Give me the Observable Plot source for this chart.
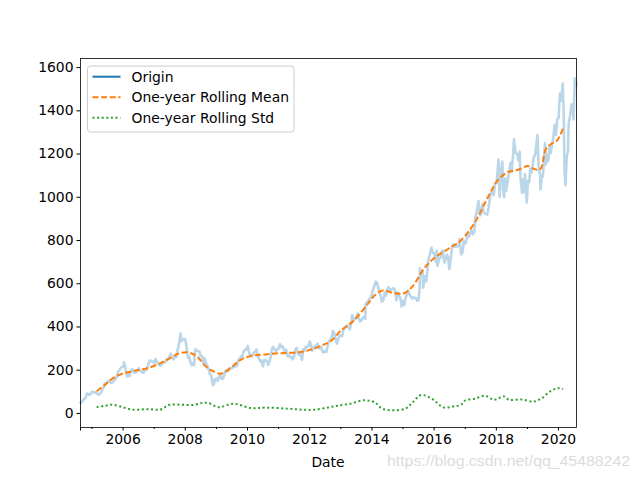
<!DOCTYPE html>
<html>
<head>
<meta charset="utf-8">
<script src="https://cdn.jsdelivr.net/npm/d3@7"></script>
<script src="https://cdn.jsdelivr.net/npm/@observablehq/plot@0.6"></script>
<style>
  html, body { margin: 0; padding: 0; background: #fff; }
  #wrap { position: relative; width: 640px; height: 480px; font-family: "DejaVu Sans", sans-serif; }
</style>
</head>
<body>
<div id="wrap"></div>
<script>
// ---- data ----
const originDates = [
"2004-08-19","2004-09-01","2004-09-15","2004-10-01","2004-10-15","2004-11-01","2004-11-15","2004-12-01","2004-12-15",
"2005-01-03","2005-01-18","2005-02-01","2005-02-15","2005-03-01","2005-03-15","2005-04-01","2005-04-15","2005-05-02","2005-05-16","2005-06-01","2005-06-15","2005-07-01","2005-07-15","2005-08-01","2005-08-15","2005-09-01","2005-09-15","2005-10-03","2005-10-17","2005-11-01","2005-11-15","2005-12-01","2005-12-15",
"2006-01-03","2006-01-11","2006-01-25","2006-02-06","2006-02-15","2006-03-01","2006-03-15","2006-04-03","2006-04-17","2006-05-01","2006-05-15","2006-06-01","2006-06-15","2006-07-03","2006-07-17","2006-08-01","2006-08-15","2006-09-01","2006-09-15","2006-10-02","2006-10-16","2006-11-01","2006-11-15","2006-12-01","2006-12-15",
"2007-01-02","2007-01-16","2007-02-01","2007-02-15","2007-03-01","2007-03-15","2007-04-02","2007-04-16","2007-05-01","2007-05-15","2007-06-01","2007-06-15","2007-07-02","2007-07-16","2007-08-01","2007-08-15","2007-09-04","2007-09-17","2007-10-01","2007-10-15","2007-11-01","2007-11-07","2007-11-15","2007-12-03","2007-12-17",
"2008-01-02","2008-01-16","2008-02-01","2008-02-15","2008-03-03","2008-03-17","2008-04-01","2008-04-15","2008-04-18","2008-05-01","2008-05-15","2008-06-02","2008-06-16","2008-07-01","2008-07-16","2008-07-25","2008-08-01","2008-08-15","2008-09-02","2008-09-16","2008-10-01","2008-10-15","2008-10-27","2008-11-03","2008-11-20","2008-12-01","2008-12-15",
"2009-01-02","2009-01-15","2009-02-02","2009-02-16","2009-03-02","2009-03-16","2009-04-01","2009-04-16","2009-05-01","2009-05-15","2009-06-01","2009-06-15","2009-07-01","2009-07-17","2009-08-03","2009-08-17","2009-09-01","2009-09-15","2009-10-01","2009-10-15","2009-11-02","2009-11-16","2009-12-01","2009-12-15",
"2010-01-04","2010-01-15","2010-02-01","2010-02-16","2010-03-01","2010-03-15","2010-04-01","2010-04-15","2010-05-03","2010-05-17","2010-06-01","2010-06-15","2010-07-01","2010-07-15","2010-08-02","2010-08-16","2010-08-31","2010-09-15","2010-10-01","2010-10-15","2010-11-01","2010-11-15","2010-12-01","2010-12-15",
"2011-01-03","2011-01-18","2011-02-01","2011-02-15","2011-03-01","2011-03-16","2011-04-01","2011-04-15","2011-05-02","2011-05-16","2011-06-01","2011-06-15","2011-07-01","2011-07-18","2011-08-01","2011-08-09","2011-08-15","2011-09-01","2011-09-15","2011-10-03","2011-10-17","2011-11-01","2011-11-15","2011-12-01","2011-12-15",
"2012-01-03","2012-01-18","2012-02-01","2012-02-15","2012-03-01","2012-03-15","2012-04-02","2012-04-16","2012-05-01","2012-05-15","2012-06-01","2012-06-15","2012-07-02","2012-07-16","2012-08-01","2012-08-15","2012-09-04","2012-09-17","2012-10-01","2012-10-15","2012-11-01","2012-11-15","2012-12-03","2012-12-17",
"2013-01-02","2013-01-16","2013-02-01","2013-02-15","2013-03-01","2013-03-15","2013-04-01","2013-04-16","2013-05-01","2013-05-15","2013-06-03","2013-06-17","2013-07-01","2013-07-16","2013-08-01","2013-08-15","2013-09-03","2013-09-16","2013-10-01","2013-10-15","2013-10-18","2013-11-01","2013-11-15","2013-12-02","2013-12-16",
"2014-01-02","2014-01-15","2014-01-31","2014-02-14","2014-02-28","2014-03-14","2014-03-31","2014-04-14","2014-04-28","2014-05-15","2014-05-30","2014-06-16","2014-06-30","2014-07-15","2014-07-31","2014-08-15","2014-09-02","2014-09-16","2014-10-01","2014-10-15","2014-10-31","2014-11-14","2014-12-01","2014-12-16",
"2015-01-02","2015-01-15","2015-01-30","2015-02-13","2015-03-02","2015-03-16","2015-04-01","2015-04-15","2015-05-01","2015-05-15","2015-06-01","2015-06-15","2015-07-01","2015-07-16","2015-07-17","2015-08-03","2015-08-17","2015-08-25","2015-09-01","2015-09-15","2015-10-01","2015-10-15","2015-10-23","2015-11-02","2015-11-16","2015-12-01","2015-12-15",
"2016-01-04","2016-01-20","2016-02-01","2016-02-09","2016-02-16","2016-03-01","2016-03-15","2016-04-01","2016-04-15","2016-04-22","2016-05-02","2016-05-16","2016-06-01","2016-06-15","2016-06-27","2016-07-15","2016-07-29","2016-08-15","2016-09-01","2016-09-15","2016-10-03","2016-10-17","2016-10-25","2016-11-01","2016-11-14","2016-12-01","2016-12-15",
"2017-01-03","2017-01-17","2017-01-27","2017-02-15","2017-03-01","2017-03-15","2017-03-31","2017-04-17","2017-04-28","2017-05-15","2017-06-05","2017-06-15","2017-06-29","2017-07-14","2017-07-26","2017-08-01","2017-08-16","2017-09-01","2017-09-15","2017-10-02","2017-10-16","2017-10-27","2017-11-15","2017-12-01","2017-12-15",
"2018-01-02","2018-01-16","2018-01-26","2018-02-08","2018-02-21","2018-03-12","2018-03-23","2018-04-02","2018-04-16","2018-04-27","2018-05-15","2018-06-01","2018-06-15","2018-06-28","2018-07-17","2018-07-26","2018-08-15","2018-09-04","2018-09-17","2018-10-01","2018-10-12","2018-10-29","2018-11-08","2018-11-23","2018-12-03","2018-12-24",
"2019-01-07","2019-01-22","2019-02-04","2019-02-15","2019-03-01","2019-03-15","2019-04-01","2019-04-29","2019-05-13","2019-05-31","2019-06-03","2019-06-17","2019-07-01","2019-07-26","2019-08-05","2019-08-19","2019-09-03","2019-09-18","2019-10-01","2019-10-15","2019-11-01","2019-11-15","2019-12-02","2019-12-16",
"2020-01-02","2020-01-17","2020-02-04","2020-02-19","2020-03-02","2020-03-12","2020-03-23","2020-04-06","2020-04-21","2020-04-29","2020-05-15","2020-06-01","2020-06-15","2020-06-26","2020-07-10","2020-07-24","2020-07-30"
];
const originValues = [
50,51,60,68,70,92,91,86,90,
101,98,96,98,93,87,90,96,110,120,140,137,146,151,145,142,143,151,159,168,192,199,208,215,
217,237,216,190,171,182,172,195,205,198,188,190,195,210,200,193,190,189,205,201,215,238,246,240,240,
233,252,241,231,224,221,229,235,236,240,252,253,265,276,255,250,264,262,292,312,351,370,333,341,345,
342,308,258,265,235,222,233,224,270,297,290,289,286,266,266,246,234,255,232,221,205,183,180,170,131,134,158,
161,150,171,180,160,160,174,197,198,195,209,210,209,215,226,218,222,248,252,264,265,286,294,295,
312,290,266,270,266,282,284,296,265,254,241,244,218,247,245,242,225,240,263,301,308,297,289,296,
302,320,306,312,300,281,295,265,269,260,263,250,260,297,303,288,279,270,276,248,297,289,308,306,312,
333,313,290,302,311,312,323,302,302,307,285,282,290,285,316,334,342,356,381,372,342,323,347,361,
360,358,387,396,399,407,399,389,415,455,434,437,443,462,441,425,433,444,444,439,505,513,518,531,534,
554,574,592,610,606,585,556,544,517,525,559,545,575,584,571,573,577,579,567,524,559,544,534,495,
521,502,534,549,569,552,542,532,537,534,534,521,522,580,672,650,660,582,600,636,611,661,702,722,740,767,744,
741,701,752,683,691,718,720,749,753,718,698,716,734,718,668,719,768,782,771,771,772,779,807,783,736,747,797,
786,804,823,818,835,847,829,838,905,932,983,935,917,955,970,930,926,922,920,953,992,1019,1021,1010,1064,
1065,1121,1175,1001,1111,1165,1022,1000,1087,1030,1079,1120,1159,1116,1199,1268,1207,1198,1170,1211,1090,1020,1082,1023,1106,976,
1076,1070,1132,1113,1140,1185,1194,1288,1132,1104,1036,1092,1097,1250,1152,1198,1168,1232,1205,1243,1273,1334,1289,1361,
1368,1480,1447,1526,1389,1114,1056,1186,1216,1341,1375,1431,1419,1360,1550,1511,1531
];

const meanDates = [
"2005-02-24","2005-05-26","2005-08-18","2006-01-01","2006-05-08","2006-09-24","2007-03-29","2007-07-02","2007-10-16",
"2008-01-26","2008-04-01","2008-06-03","2008-08-26","2008-11-25","2009-02-21","2009-06-18","2009-09-13","2009-11-18",
"2010-03-15","2010-08-22","2011-01-26","2011-09-13","2012-02-17","2012-06-17","2012-09-05","2013-01-01","2013-06-03",
"2013-11-14","2014-02-06","2014-05-08","2014-09-13","2015-01-12","2015-04-27","2015-09-02","2015-11-25","2016-01-23",
"2016-07-16","2016-11-10","2017-04-13","2017-09-24","2018-01-30","2018-05-27","2018-09-13","2019-01-08","2019-03-15",
"2019-05-27","2019-08-08","2019-10-01","2019-12-13","2020-02-24"
];
const meanValues = [
103,130,158,185,197,207,235,255,277,
283,275,258,218,195,184,210,240,256,
268,274,279,284,299,319,334,383,430,
507,548,569,557,556,590,669,705,725,
769,800,877,1000,1085,1118,1127,1145,1132,
1128,1225,1245,1262,1320
];

const stdDates = [
"2005-02-24","2005-05-26","2005-08-29","2006-01-01","2006-05-08","2006-10-20","2007-03-15","2007-07-02","2007-11-25",
"2008-04-20","2008-07-20","2008-10-01","2009-01-26","2009-07-24","2010-02-06","2010-08-08","2011-04-20","2011-10-20",
"2012-02-17","2012-08-08","2012-11-25","2013-04-20","2013-09-27","2014-02-06","2014-05-08","2015-01-23","2015-04-20",
"2015-07-31","2015-12-06","2016-04-20","2016-08-08","2016-11-10","2017-01-01","2017-04-20","2017-08-22","2017-12-06",
"2018-04-01","2018-05-27","2018-10-20","2019-03-15","2019-06-15","2019-09-24","2019-12-24","2020-02-24"
];
const stdValues = [
29,35,40,28,17,20,18,40,40,
40,49,48,29,45,25,27,22,17,
17,28,36,45,61,51,21,21,50,
85,68,28,32,40,60,68,82,63,
79,63,65,55,70,102,117,113
];

const yTicks = [0, 200, 400, 600, 800, 1000, 1200, 1400, 1600];
const xMajorYears = [2006, 2008, 2010, 2012, 2014, 2016, 2018, 2020];
const xMinorYears = [2005, 2007, 2009, 2011, 2013, 2015, 2017, 2019];
const seriesNames = ["Origin", "One-year Rolling Mean", "One-year Rolling Std"];
const seriesColors = ["#1f77b4", "#ff7f0e", "#2ca02c"];
const xLabel = "Date";
const watermark = "https://blog.csdn.net/qq_45488242";

// ---- build tables ----
const parse = d3.utcParse("%Y-%m-%d");
const origin = originDates.map((d, i) => ({date: parse(d), value: originValues[i]}));
const mean = meanDates.map((d, i) => ({date: parse(d), value: meanValues[i]}));
const std = stdDates.map((d, i) => ({date: parse(d), value: stdValues[i]}));
const xStart = origin[0].date;
const xEnd = origin[origin.length - 1].date;
const yr = y => new Date(Date.UTC(y, 0, 1));

const font = "DejaVu Sans, sans-serif";
const dashMean = "6,2.6";
const dashStd = "2,2.6";

const chart = Plot.plot({
  width: 640,
  height: 480,
  marginLeft: 80,
  marginRight: 64,
  marginTop: 58,
  marginBottom: 53,
  style: {fontFamily: font, fontSize: "13.9px", color: "black", background: "white", overflow: "visible"},
  x: {type: "utc", domain: [xStart, xEnd]},
  y: {domain: [-65, 1642]},
  marks: [
    Plot.line(origin, {x: "date", y: "value", stroke: seriesColors[0], strokeOpacity: 0.3, strokeWidth: 2.6}),
    Plot.line(mean, {x: "date", y: "value", stroke: seriesColors[1], strokeWidth: 2, strokeDasharray: dashMean, strokeLinecap: "butt", curve: "catmull-rom"}),
    Plot.line(std, {x: "date", y: "value", stroke: seriesColors[2], strokeWidth: 2, strokeDasharray: dashStd, strokeLinecap: "butt", curve: "catmull-rom"}),
    Plot.frame({stroke: "black", strokeWidth: 0.8}),
    Plot.axisY({ticks: yTicks, tickSize: 3.5, tickPadding: 3.5, tickFormat: d => String(d), label: null, fontSize: 13.9}),
    Plot.axisX({ticks: xMinorYears.map(yr), tickSize: 2, tickFormat: () => "", label: null}),
    Plot.axisX({ticks: [xStart], tickSize: 3.5, tickFormat: () => "", label: null}),
    Plot.axisX({ticks: xMajorYears.map(yr), tickSize: 3.5, tickPadding: 3, tickFormat: d => String(d.getUTCFullYear()), label: null, fontSize: 13.9})
  ]
});

const wrap = document.getElementById("wrap");
wrap.appendChild(chart);

// axis label, legend and watermark as real text
const svg = d3.select(chart.tagName.toLowerCase() === "svg" ? chart : chart.querySelector("svg"));

svg.append("text")
  .attr("x", 328).attr("y", 467)
  .attr("text-anchor", "middle")
  .attr("font-family", font).attr("font-size", 13.9).attr("fill", "black")
  .text(xLabel);

svg.append("text")
  .attr("x", 387).attr("y", 466)
  .attr("text-anchor", "start")
  .attr("font-family", "Liberation Sans, Arial, sans-serif").attr("font-size", 15)
  .attr("textLength", 243).attr("lengthAdjust", "spacingAndGlyphs")
  .attr("fill", "#dcdcdc")
  .text(watermark);

const leg = svg.append("g").attr("text-anchor", "start");
leg.append("rect")
  .attr("x", 87.5).attr("y", 66).attr("width", 206.5).attr("height", 66)
  .attr("rx", 3).attr("fill", "white").attr("fill-opacity", 0.8)
  .attr("stroke", "#cccccc").attr("stroke-width", 1);
const dashes = [null, dashMean, dashStd];
seriesNames.forEach((name, i) => {
  const cy = 76.7 + i * 20.5;
  leg.append("line")
    .attr("x1", 92.5).attr("x2", 120.5).attr("y1", cy).attr("y2", cy)
    .attr("stroke", seriesColors[i]).attr("stroke-width", 2)
    .attr("stroke-dasharray", dashes[i]);
  leg.append("text")
    .attr("x", 131.5).attr("y", cy + 5)
    .attr("text-anchor", "start")
    .attr("font-family", font).attr("font-size", 13.9).attr("fill", "black")
    .text(name);
});
</script>
</body>
</html>
